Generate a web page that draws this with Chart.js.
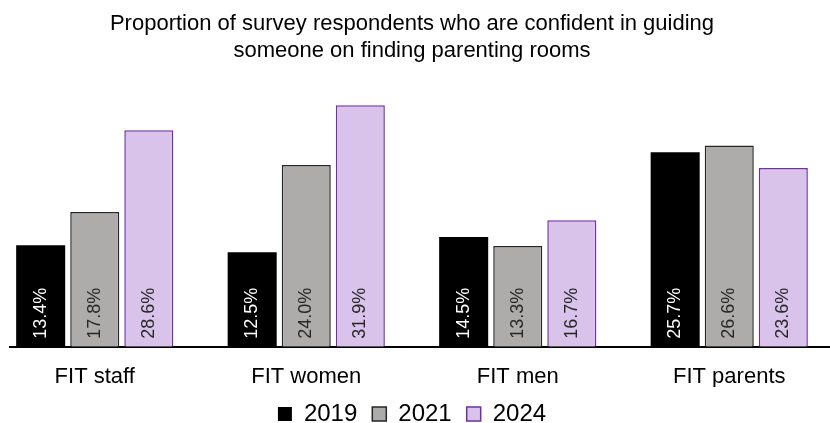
<!DOCTYPE html>
<html>
<head>
<meta charset="utf-8">
<script src="https://cdn.jsdelivr.net/npm/chart.js@4.4.1/dist/chart.umd.min.js"></script>
<style>
    html, body { margin: 0; padding: 0; background: #fff; }
    #wrap { position: absolute; left: 9px; top: 0; width: 821px; height: 423px; overflow: hidden; }
    #chart { position: absolute; left: -20px; top: 0; }
</style>
</head>
<body>
<div id="wrap">
    <canvas id="chart" width="846" height="423"></canvas>
</div>
<script>
// ===== DATA =====
const groups = ["FIT staff", "FIT women", "FIT men", "FIT parents"];
const years = ["2019", "2021", "2024"];
const values2019 = [13.4, 12.5, 14.5, 25.7];
const values2021 = [17.8, 24.0, 13.3, 26.6];
const values2024 = [28.6, 31.9, 16.7, 23.6];

// ===== STYLE =====
const FONT = "'Liberation Sans', Arial, sans-serif";
const fills = ["#000000", "#AEABAB", "#DAC3EA"];
const borders = ["#000000", "#262626", "#7030A0"];
const labelColors = ["#ffffff", "#262626", "#262626"];

// bar value labels, rotated, sitting at the base of each bar
const barLabels = {
    id: "barLabels",
    afterDatasetsDraw(chart) {
        const ctx = chart.ctx;
        chart.data.datasets.forEach((ds, i) => {
            const meta = chart.getDatasetMeta(i);
            meta.data.forEach((bar, j) => {
                ctx.save();
                ctx.translate(bar.x, bar.base - 8);
                ctx.rotate(-Math.PI / 2);
                ctx.font = "18px " + FONT;
                ctx.fillStyle = labelColors[i];
                ctx.textAlign = "left";
                ctx.textBaseline = "middle";
                ctx.fillText(ds.data[j].toFixed(1) + "%", 0, 0);
                ctx.restore();
            });
        });
    }
};

const seriesData = [values2019, values2021, values2024];

new Chart(document.getElementById("chart"), {
    type: "bar",
    data: {
        labels: groups,
        datasets: years.map((y, i) => ({
            label: y,
            data: seriesData[i],
            backgroundColor: fills[i],
            borderColor: borders[i],
            borderWidth: i === 0 ? 0 : 1.5,
            categoryPercentage: 0.767,
            barPercentage: 0.907
        }))
    },
    options: {
        responsive: false,
        animation: false,
        devicePixelRatio: 1,
        layout: { padding: { top: 0, bottom: -13 } },
        scales: {
            x: {
                grid: { display: false, drawTicks: false },
                border: { display: true, color: "#000", width: 2 },
                ticks: {
                    color: "#000",
                    padding: 29,
                    font: { family: FONT, size: 22, lineHeight: 0.1 }
                },
                // tighten the gap between the axis labels and the legend
                afterFit(scale) {
                    scale.height -= 20;
                }
            },
            y: {
                display: false,
                min: 0,
                max: 35
            }
        },
        plugins: {
            title: {
                display: true,
                text: [
                    "Proportion of survey respondents who are confident in guiding",
                    "someone on finding parenting rooms"
                ],
                color: "#000",
                font: { family: FONT, size: 22, weight: "normal", lineHeight: 1.2 },
                padding: { top: 11, bottom: 18 }
            },
            legend: {
                position: "bottom",
                labels: {
                    color: "#000",
                    boxWidth: 14,
                    boxHeight: 14,
                    padding: 15,
                    font: { family: FONT, size: 24 }
                }
            },
            tooltip: { enabled: false }
        }
    },
    plugins: [barLabels]
});
</script>
</body>
</html>
